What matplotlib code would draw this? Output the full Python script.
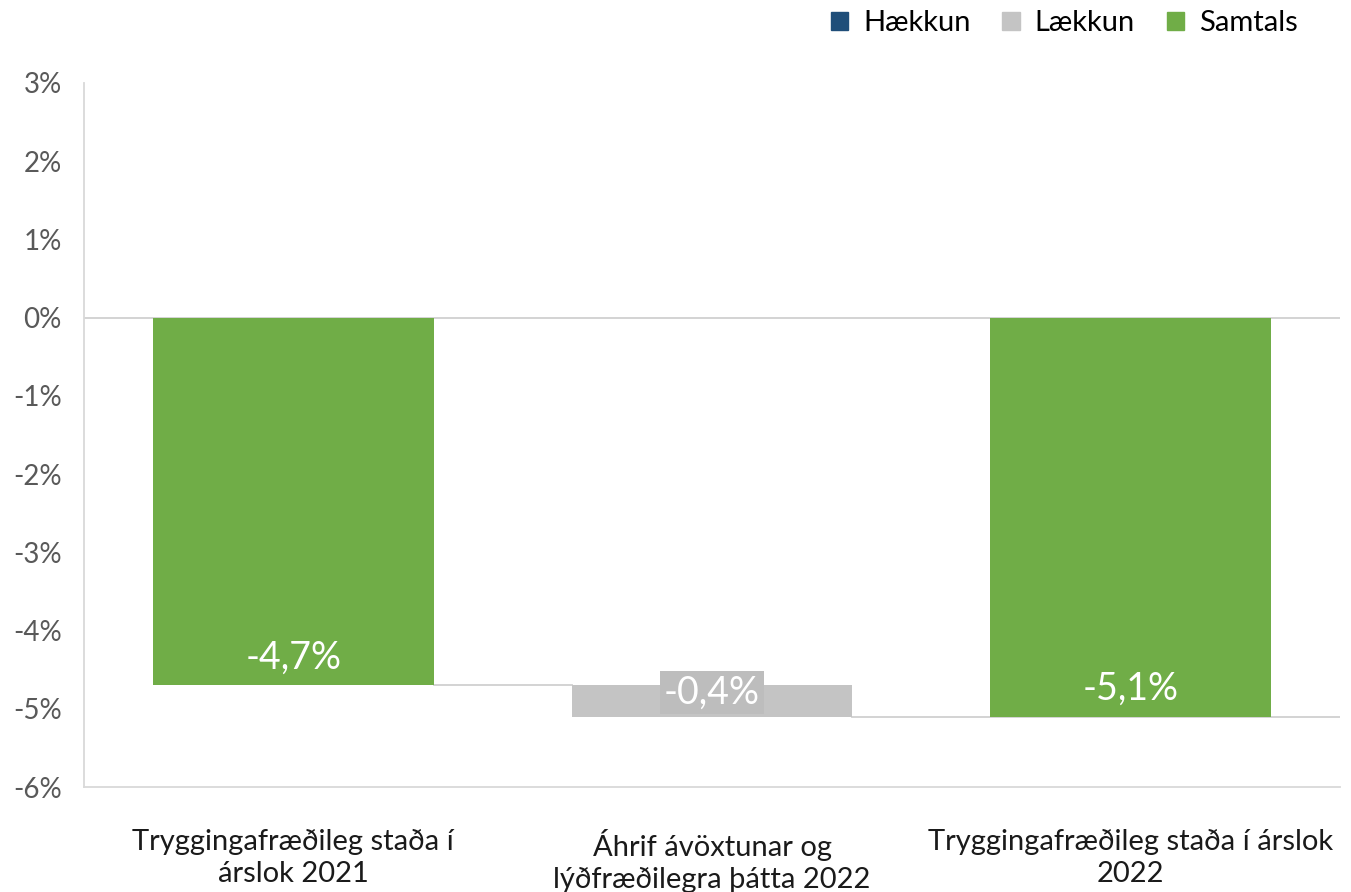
"""
Waterfall: tryggingafræðileg staða 2021 -> 2022.
"""
import matplotlib
matplotlib.use('Agg')
from matplotlib import pyplot as plt
from matplotlib.patches import Patch

categories = ['Tryggingafræðileg staða í\nárslok 2021',
              'Áhrif ávöxtunar og\nlýðfræðilegra þátta 2022',
              'Tryggingafræðileg staða í árslok\n2022']
start_value = -4.7
change_value = -0.4
end_value = -5.1
value_labels = ['-4,7%', '-0,4%', '-5,1%']
yticks = [3, 2, 1, 0, -1, -2, -3, -4, -5, -6]

GREEN = '#70ad47'
GRAY = '#c4c4c4'
BLUE = '#1f4e79'

plt.rcParams['font.family'] = ['Lato', 'DejaVu Sans']

fig = plt.figure(figsize=(13.51, 8.92), dpi=100)
ax = fig.add_axes([0.0622, 0.1177, 0.9297, 0.7893])

x = [0, 1, 2]
w = 0.67
# totals
ax.bar([x[0], x[2]], [start_value, end_value], width=w, color=GREEN, zorder=3)
# change bar (floating)
ax.bar(x[1], change_value, bottom=start_value, width=w, color=GRAY, zorder=3)

ax.set_xlim(-0.5, 2.5)
ax.set_ylim(-6, 3)

# zero line and connectors
ax.axhline(0, color='#d0d0d0', lw=1.3, zorder=2)
ax.plot([x[0] + w / 2, x[1] - w / 2], [start_value, start_value], color='#d0d0d0', lw=1.3, zorder=2)
ax.plot([x[1] + w / 2, 2.5], [end_value, end_value], color='#d0d0d0', lw=1.3, zorder=2)

# data labels
ax.text(x[0], start_value + 0.12, value_labels[0], ha='center', va='bottom',
        color='white', fontsize=27, zorder=4)
ax.text(x[1], end_value + 0.08, value_labels[1], ha='center', va='bottom',
        color='white', fontsize=27, zorder=4,
        bbox=dict(boxstyle='square,pad=0.1', fc='#bdbdbd', ec='none'))
ax.text(x[2], end_value + 0.12, value_labels[2], ha='center', va='bottom',
        color='white', fontsize=27, zorder=4)

ax.set_yticks(yticks)
ax.set_yticklabels(['%d%%' % v for v in yticks])
ax.set_xticks(x)
ax.set_xticklabels(categories, fontsize=21, color='#1a1a1a', linespacing=1.3)
ax.tick_params(axis='y', length=0, labelsize=20, labelcolor='#595959', pad=16)
ax.tick_params(axis='x', length=0, pad=30)

for side in ['top', 'right']:
    ax.spines[side].set_visible(False)
ax.spines['left'].set_color('#d9d9d9')
ax.spines['bottom'].set_color('#d9d9d9')
ax.spines['left'].set_linewidth(1.3)
ax.spines['bottom'].set_linewidth(1.3)

handles = [Patch(color=BLUE, label='Hækkun'),
           Patch(color=GRAY, label='Lækkun'),
           Patch(color=GREEN, label='Samtals')]
fig.legend(handles=handles, loc='upper right', bbox_to_anchor=(0.98, 1.018), ncol=3,
           frameon=False, fontsize=21, handlelength=0.6, handleheight=0.6,
           handletextpad=0.5, columnspacing=1.1)

fig.savefig('out.png', dpi=100)
